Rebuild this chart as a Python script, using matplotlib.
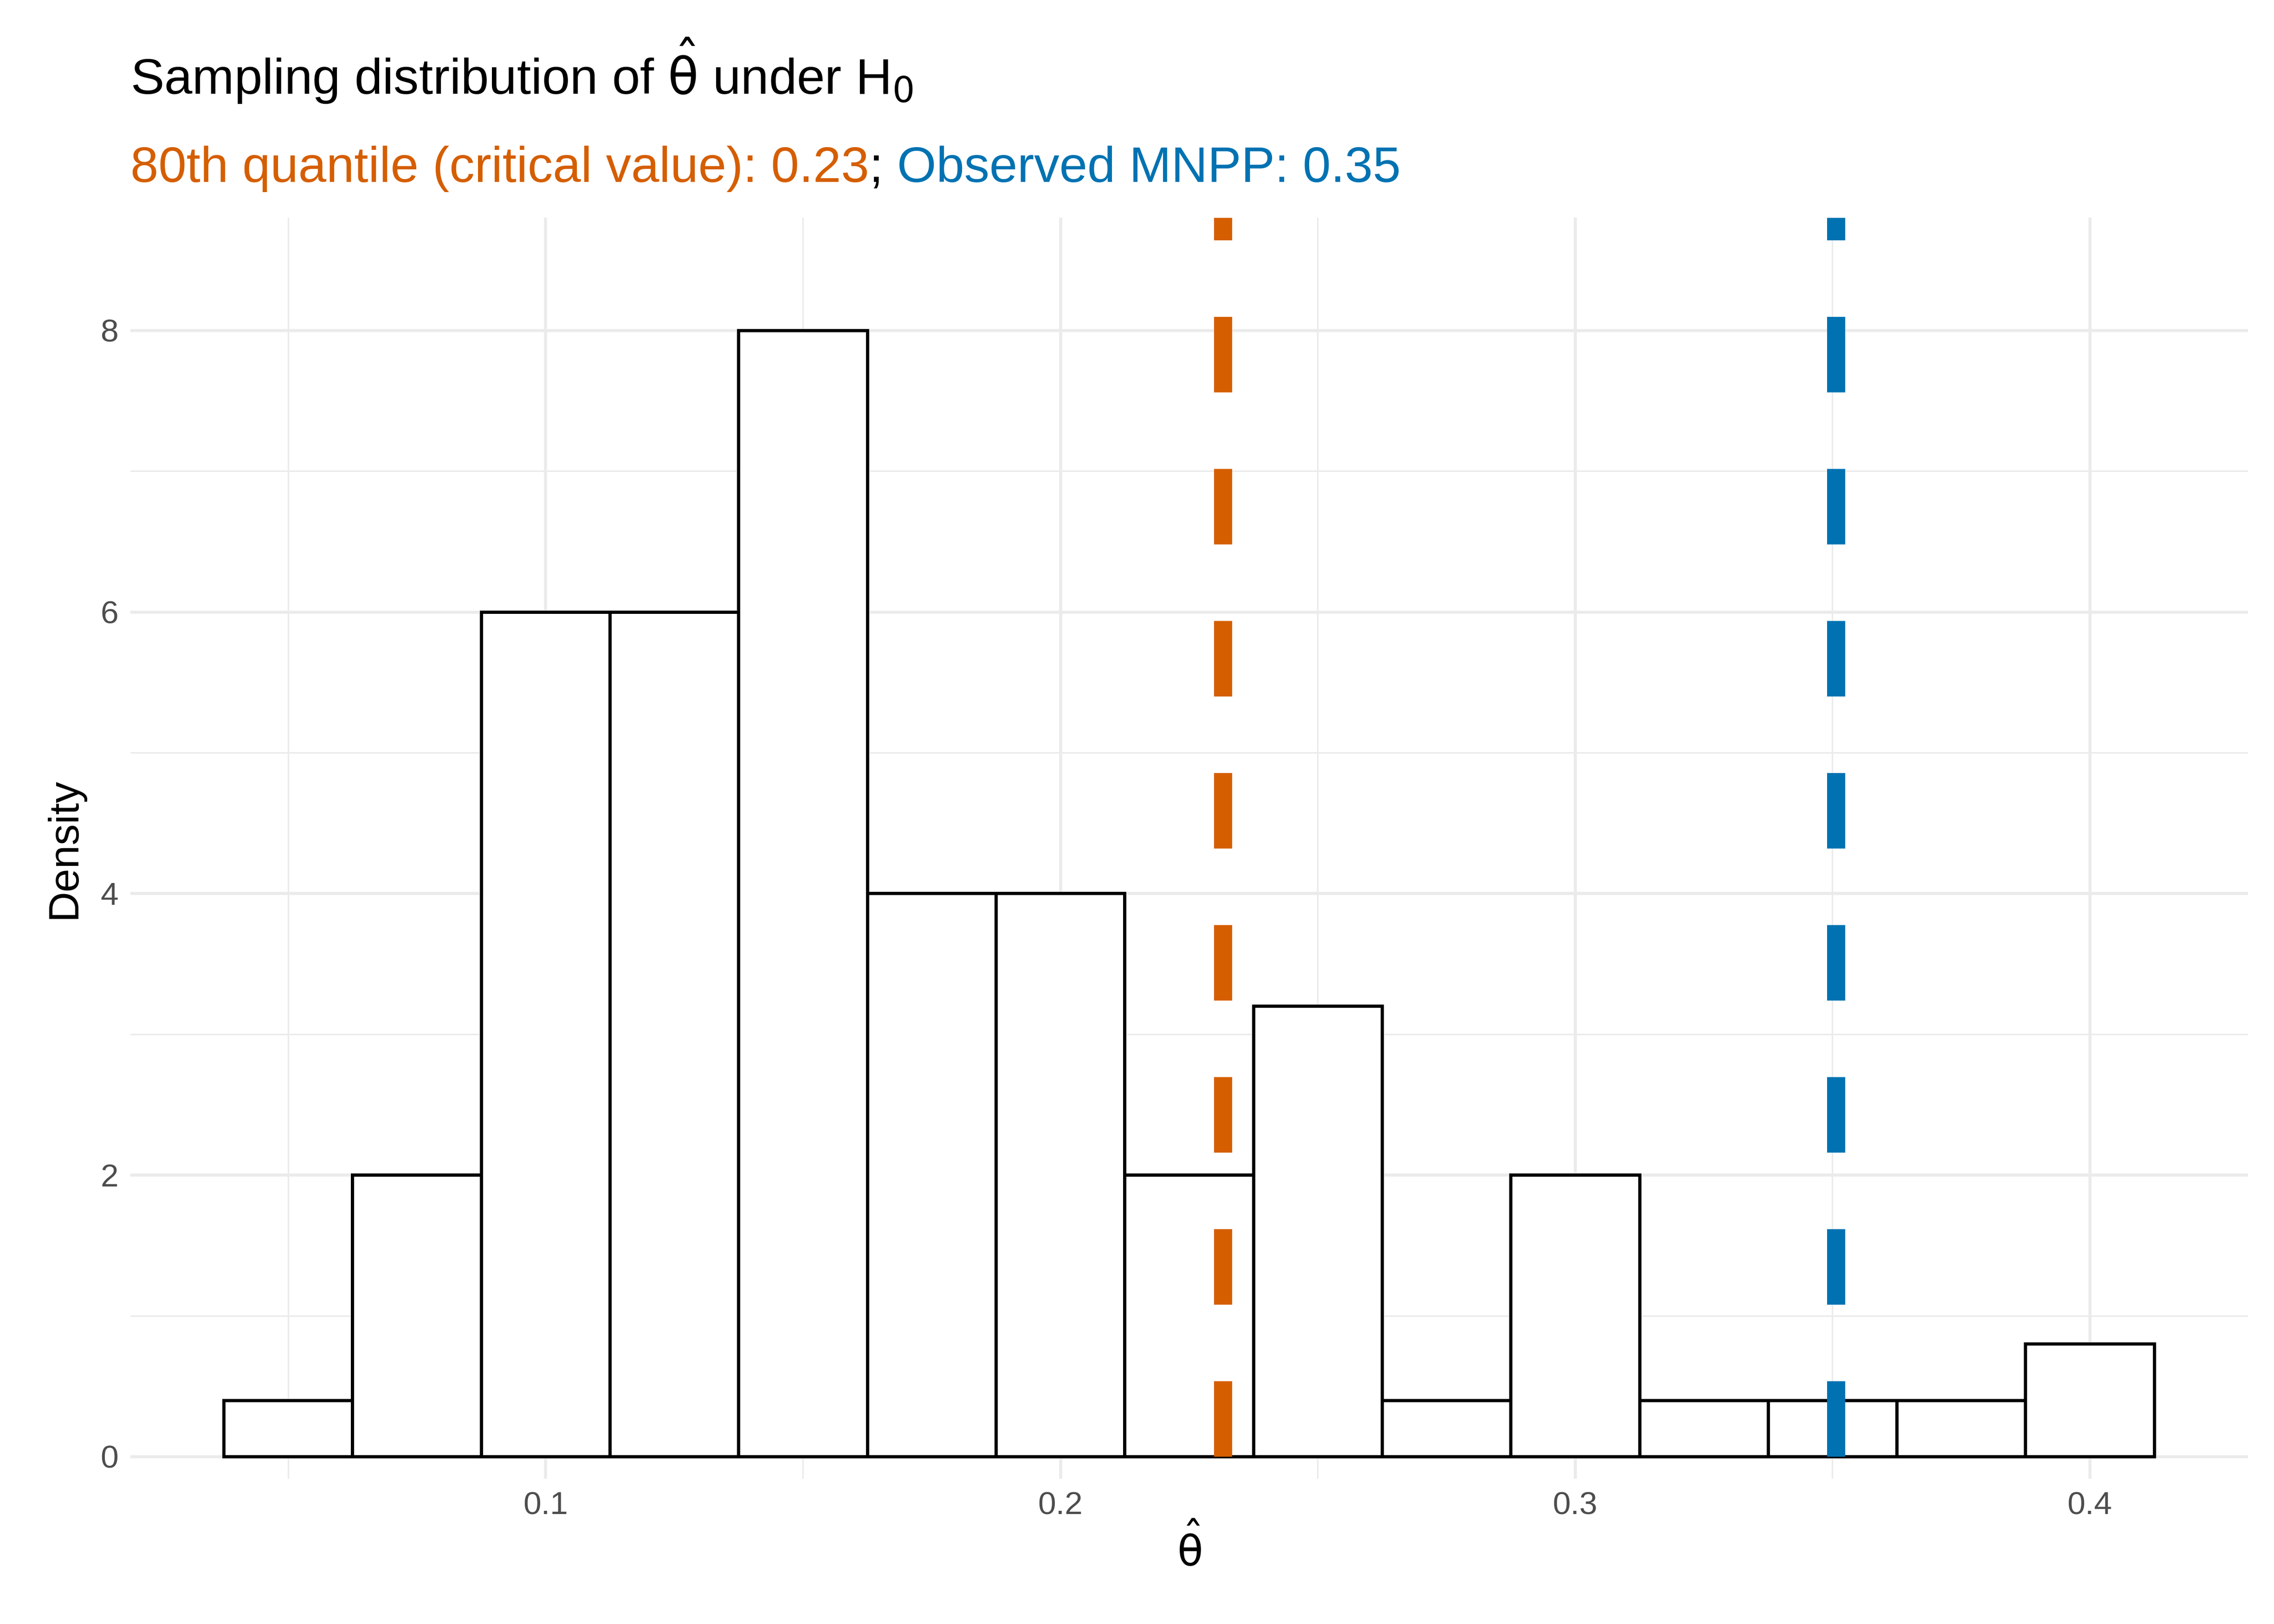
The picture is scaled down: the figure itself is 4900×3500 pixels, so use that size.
import matplotlib
matplotlib.use("Agg")
import matplotlib.pyplot as plt
import numpy as np

bin_edges = [0.0375 + 0.025 * i for i in range(16)]
densities = [0.4, 2, 6, 6, 8, 4, 4, 2, 3.2, 0.4, 2, 0.4, 0.4, 0.4, 0.8]
critical = 0.2316
observed = 0.3507
xticks = [0.1, 0.2, 0.3, 0.4]
yticks = [0, 2, 4, 6, 8]

plt.rcParams['font.family'] = ['Liberation Sans', 'DejaVu Sans']
plt.rcParams['mathtext.fontset'] = 'dejavusans'
plt.rcParams['lines.scale_dashes'] = False

fig = plt.figure(figsize=(15.68, 11.2), dpi=312.5)
ax = fig.add_axes([0.0574, 0.0893, 0.9311, 0.7767])
widths = np.diff(bin_edges)
ax.bar(bin_edges[:-1], densities, width=widths, align='edge', facecolor='white',
       edgecolor='black', linewidth=1.6, zorder=2)
ax.set_xlim(0.0194, 0.4307)
ax.set_ylim(-0.16, 8.8)
for v, c in [(critical, '#D55E00'), (observed, '#0072B2')]:
    ax.plot([v, v], [0, 8.8], color=c, linewidth=9, dashes=(37.5, 38),
            solid_capstyle='butt', dash_capstyle='butt', zorder=3)
ax.set_xticks(xticks)
ax.set_xticklabels([str(t) for t in xticks])
ax.set_yticks(yticks)
ax.set_xticks([0.05, 0.15, 0.25, 0.35], minor=True)
ax.set_yticks([1, 3, 5, 7], minor=True)
ax.grid(which='major', color='#EBEBEB', linewidth=1.5, zorder=0)
ax.grid(which='minor', color='#EBEBEB', linewidth=0.75, zorder=0)
ax.set_axisbelow(True)
for s in ax.spines.values():
    s.set_visible(False)
ax.tick_params(which='both', length=0, labelsize=16, labelcolor='#4D4D4D', pad=6)
ax.set_xlabel(r'$\hat{\mathrm{\theta}}$', fontsize=21, labelpad=2)
ax.set_ylabel('Density', fontsize=21, labelpad=8)

fig.text(0.0574, 0.942, r'Sampling distribution of $\hat{\mathrm{\theta}}$ under H$_0$', fontsize=25, va='baseline')
fig.canvas.draw()
r = fig.canvas.get_renderer()
parts = [('80th quantile (critical value): 0.23', '#D55E00'), ('; ', 'black'),
         ('Observed MNPP: 0.35', '#0072B2')]
x = 0.0574
for s, c in parts:
    t = fig.text(x, 0.888, s, fontsize=25, color=c, va='baseline')
    bb = t.get_window_extent(renderer=r)
    x += bb.width / fig.bbox.width
fig.savefig('out.png', dpi=312.5)
